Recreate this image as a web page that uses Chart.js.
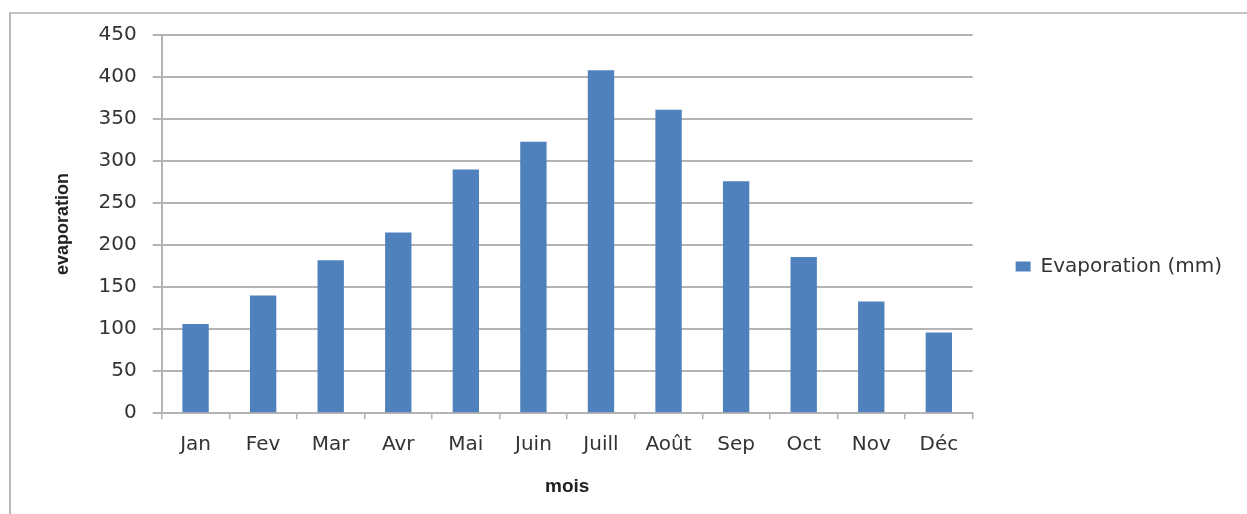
<!DOCTYPE html>
<html>
<head>
<meta charset="utf-8">
<script src="https://cdn.jsdelivr.net/npm/chart.js@4"></script>
<style>
  html, body { margin: 0; padding: 0; background: #fff; }
  #frame {
    position: absolute; left: 9px; top: 12px; right: 0; bottom: 0;
    border-left: 2px solid #b8b8b8; border-top: 2px solid #c4c4c4;
  }
  #wrap { position: absolute; left: 0; top: 0; width: 1247px; height: 514px; }
</style>
</head>
<body>
<div id="frame"></div>
<div id="wrap"><canvas id="chartEvap"></canvas></div>
<script>
const mois = ['Jan', 'Fev', 'Mar', 'Avr', 'Mai', 'Juin', 'Juill', 'Août', 'Sep', 'Oct', 'Nov', 'Déc'];
const evaporation = [106, 140, 182, 215, 290, 323, 408, 361, 276, 186, 133, 96];
const yTicks = [0, 50, 100, 150, 200, 250, 300, 350, 400, 450];

const gris = '#b4b4b4';
const texte = '#333333';

const ctx = document.getElementById('chartEvap');

new Chart(ctx, {
    type: 'bar',
    data: {
        labels: mois,
        datasets: [{
            label: 'Evaporation (mm)',
            data: evaporation,
            backgroundColor: '#4f81bd',
            barPercentage: 0.39,
            categoryPercentage: 1.0
        }]
    },
    options: {
        responsive: true,
        maintainAspectRatio: false,
        animation: false,
        layout: {
            padding: { left: 52, top: 35, bottom: 16, right: 15 }
        },
        plugins: {
            tooltip: { enabled: false },
            legend: {
                position: 'right',
                labels: {
                    boxWidth: 15,
                    boxHeight: 10,
                    padding: 43,
                    color: texte,
                    font: { family: 'DejaVu Sans', size: 20 }
                }
            }
        },
        scales: {
            x: {
                offset: true,
                grid: {
                    offset: true,
                    drawOnChartArea: false,
                    drawTicks: true,
                    tickLength: 6,
                    color: gris,
                    lineWidth: 1.5
                },
                border: { color: gris, width: 2 },
                ticks: {
                    padding: 14,
                    color: texte,
                    font: { family: 'DejaVu Sans', size: 20 }
                },
                title: {
                    display: true,
                    text: 'mois',
                    color: '#222',
                    padding: { top: 4, bottom: 0 },
                    font: { family: 'Liberation Sans', size: 19, weight: 'bold' }
                }
            },
            y: {
                min: 0,
                max: 450,
                afterBuildTicks: axis => {
                    axis.ticks = yTicks.map(v => ({ value: v }));
                },
                grid: {
                    color: gris,
                    lineWidth: 2,
                    tickLength: 9
                },
                border: { color: gris, width: 2 },
                ticks: {
                    padding: 16,
                    color: texte,
                    font: { family: 'DejaVu Sans', size: 20 }
                },
                title: {
                    display: true,
                    text: 'evaporation',
                    color: '#222',
                    padding: { top: 0, bottom: 9 },
                    font: { family: "'Liberation Sans Narrow', 'Liberation Sans'", size: 18, weight: 'bold' }
                }
            }
        }
    }
});
</script>
</body>
</html>
